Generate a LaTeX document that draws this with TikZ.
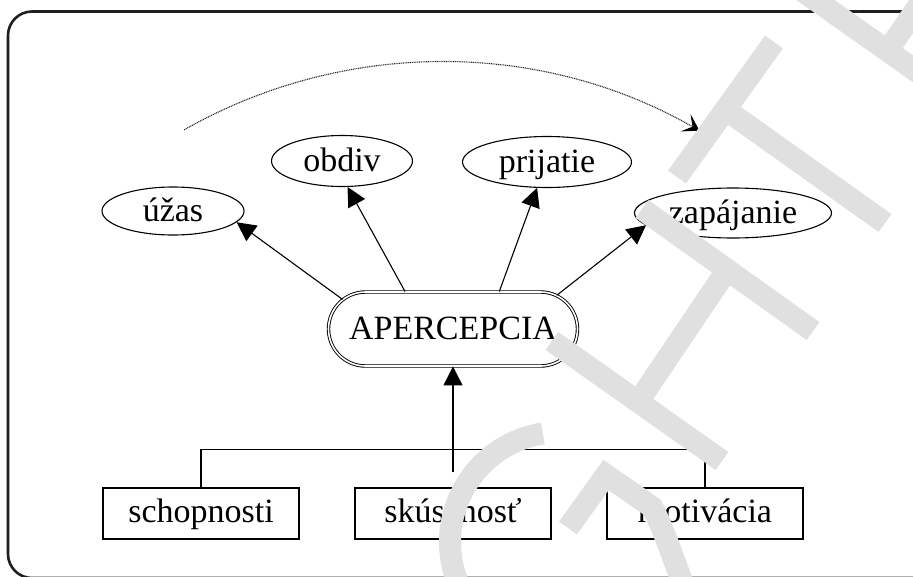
\documentclass[tikz,border=0pt]{standalone}
\usepackage{fontspec}
\setmainfont{Liberation Serif}
\usetikzlibrary{arrows.meta,shapes.geometric,shapes.misc}
\begin{document}
\begin{tikzpicture}[x=1pt,y=-1pt,
  lbl/.style={font=\fontsize{34}{40}\selectfont, inner sep=0pt, text height=26pt, text depth=5pt},
  oval/.style={lbl, ellipse, draw, line width=1.1pt},
  boxnode/.style={lbl, rectangle, draw, line width=1.1pt, minimum width=196pt, minimum height=51pt, text height=24pt, text depth=7pt},
  aperstyle/.style={lbl, rounded rectangle, draw, double, double distance=1.6pt, line width=0.9pt, minimum width=249pt, minimum height=74pt},
  arr/.style={line width=1.1pt, -{Triangle[length=19pt,width=19pt]}},
  link/.style={line width=1.1pt},
  wm/.style={line width=22pt, draw=black!12, line cap=butt},
  dotarc/.style={line width=1.1pt, draw=black!85, dash pattern=on 1pt off 0.8pt, -{Stealth[length=16pt,width=20pt,inset=8pt,black]}},
  frame/.style={line width=2.6pt, draw=black!88, rounded corners=24pt}]
\useasboundingbox (0,0) rectangle (913,576);
\clip (0,0) rectangle (913,576);
\fill[white] (0,0) rectangle (913,576);
\draw[frame] (8,11.5) rectangle (960,578);

% nodes
\node[oval, minimum width=142pt, minimum height=48pt] (uzas) at (173,211) {úžas};
\node[oval, minimum width=141pt, minimum height=51pt] (obdiv) at (342,161) {obdiv};
\node[oval, minimum width=169pt, minimum height=51pt] (prij) at (547,162) {prijatie};
\node[oval, minimum width=197pt, minimum height=50pt] (zapa) at (733,213) {zapájanie};
\node[aperstyle] (aper) at (453,329) {APERCEPCIA};
\node[boxnode] (schop) at (201,513.5) {schopnosti};
\node[boxnode] (skus) at (453,513.5) {skúsenosť};
\node[boxnode] (motiv) at (705,513.5) {motivácia};

% connectors
\draw[link] (schop.north) -- ++(0,-38) -| (motiv.north);
\draw[arr] ([yshift=15pt]skus.north) -- (aper.south);
\draw[arr] (aper.165) -- (uzas.-10);
\draw[arr] (aper.142) -- (obdiv.-78);
\draw[arr] (aper.39) -- (prij.-111);
\draw[arr] (aper.18) -- (zapa.-172);

% dotted arc
\coordinate (dstart) at (184.2,129.8);
\draw[dotarc] (dstart) arc[start angle=-119.6, end angle=-60.2, radius=520];

% watermark
\draw[wm] (542.8,433.4) arc[start angle=-99, end angle=-240, radius=110];
\draw[wm, line join=miter] (568,528) -- (606,475) -- (652,507) .. controls (662,525) and (672,555) .. (686,592);
\draw[wm] (642,209) -- (813,331);
\draw[wm] (552,341) -- (722,461);
\draw[wm] (727,270) -- (638,402);
\draw[wm] (774,42) -- (677,177);
\draw[wm] (725.5,109.5) -- (885,223);
\draw[wm] (790,-18) -- (960,102);
\draw[wm] (888,50) -- (950,-40);
\end{tikzpicture}
\end{document}
